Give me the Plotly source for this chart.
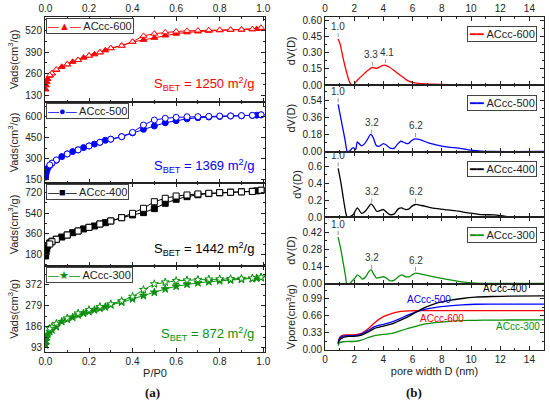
import numpy as np
import plotly.graph_objects as go

# ---- (a) N2 isotherms: relative pressure grids ----
P_ADS = [0.001, 0.003, 0.006, 0.01, 0.02, 0.03, 0.05, 0.075, 0.1, 0.125, 0.15, 0.175, 0.2,
         0.225, 0.25, 0.275, 0.3, 0.35, 0.4, 0.45, 0.5, 0.55, 0.6, 0.65, 0.7, 0.75, 0.8,
         0.85, 0.9, 0.95, 0.97, 0.99]
P_DES = [0.99, 0.95, 0.9, 0.85, 0.8, 0.75, 0.7, 0.65, 0.6, 0.55, 0.5, 0.45, 0.4, 0.35,
         0.3, 0.25, 0.2, 0.15, 0.1, 0.05, 0.03, 0.02]

ADS_600 = [165, 190, 210, 228, 248, 262, 282, 301, 316, 331, 342, 356, 368, 376, 388, 400,
           413, 428, 450, 463, 475, 489, 500, 508, 513, 517, 520, 522, 524, 526, 528, 532]
DES_600 = [535, 527, 525, 524, 523, 521, 519, 517, 513, 508, 500, 487, 452, 428, 413, 388,
           368, 342, 316, 285, 262, 251]

ADS_500 = [170, 195, 215, 232, 252, 269, 290, 316, 335, 352, 364, 380, 392, 405, 418, 432,
           440, 458, 485, 510, 534, 557, 572, 585, 593, 598, 602, 605, 607, 609, 611, 613]
DES_500 = [614, 610, 608, 606, 605, 603, 601, 600, 596, 589, 577, 541, 489, 458, 440, 418,
           392, 364, 335, 292, 270, 257]

ADS_400 = [165, 200, 230, 255, 280, 295, 312, 331, 349, 369, 384, 402, 416, 428, 445, 457,
           472, 501, 525, 545, 580, 627, 662, 685, 702, 712, 719, 724, 728, 732, 736, 740]
DES_400 = [742, 731, 727, 724, 721, 715, 709, 700, 691, 671, 641, 583, 539, 501, 472, 445,
           416, 384, 349, 311, 290, 270]

ADS_300 = [105, 125, 140, 152, 165, 172, 186, 209, 219, 228, 238, 246, 253, 261, 268, 274,
           283, 295, 310, 324, 339, 354, 366, 375, 381, 386, 390, 393, 396, 399, 402, 404]
DES_300 = [406, 402, 400, 399, 398, 397, 395, 393, 390, 384, 376, 350, 320, 301, 287, 275,
           261, 246, 224, 200, 185, 178]

SBET = {"ACcc-600": 1250, "ACcc-500": 1369, "ACcc-400": 1442, "ACcc-300": 872}

# ---- (b) pore size distributions ----
D_600 = [0.9, 1.03, 1.26, 1.48, 1.7, 1.83, 2.0, 2.12, 2.28, 2.6, 2.97, 3.24, 3.54, 3.88,
         4.1, 4.45, 4.9, 5.37, 5.7, 6.16, 6.85, 8.0, 9.0, 10.5, 15]
DV_600 = [0.43, 0.385, 0.24, 0.117, 0.022, 0.0, 0.006, 0.03, 0.054, 0.095, 0.14, 0.164,
          0.155, 0.18, 0.186, 0.164, 0.117, 0.07, 0.038, 0.019, 0.01, 0.005, 0.002, 0.0, 0.0]

D_500 = [0.9, 1.14, 1.37, 1.53, 1.71, 1.87, 1.99, 2.1, 2.21, 2.33, 2.5, 2.7, 2.9, 3.13,
         3.31, 3.5, 3.7, 4.0, 4.22, 4.45, 4.75, 4.98, 5.2, 5.48, 5.7, 5.94, 6.16, 6.5, 7.08,
         7.76, 8.45, 9.13, 9.8, 10.5, 11.4, 15]
DV_500 = [0.497, 0.306, 0.126, 0.0, 0.007, 0.036, 0.036, 0.018, 0.1, 0.083, 0.06, 0.08,
          0.126, 0.18, 0.144, 0.065, 0.054, 0.083, 0.065, 0.036, 0.036, 0.08, 0.108, 0.09,
          0.083, 0.115, 0.133, 0.126, 0.09, 0.065, 0.047, 0.036, 0.018, 0.007, 0.0, 0.0]

D_400 = [0.9, 1.1, 1.26, 1.44, 1.53, 1.71, 1.94, 2.05, 2.21, 2.33, 2.5, 2.74, 2.97, 3.15,
         3.33, 3.54, 3.77, 4.0, 4.22, 4.45, 4.75, 5.02, 5.25, 5.52, 5.75, 5.98, 6.2, 6.62,
         7.3, 8.2, 9.13, 9.8, 10.7, 11.6, 12.3, 13.0, 15]
DV_400 = [0.572, 0.395, 0.217, 0.04, 0.0, 0.008, 0.032, 0.067, 0.11, 0.087, 0.047, 0.067,
          0.118, 0.158, 0.126, 0.071, 0.079, 0.091, 0.059, 0.032, 0.04, 0.099, 0.11, 0.091,
          0.099, 0.134, 0.15, 0.138, 0.11, 0.091, 0.071, 0.051, 0.032, 0.028, 0.012, 0.0, 0.0]

D_300 = [0.9, 1.1, 1.26, 1.42, 1.48, 1.71, 1.87, 2.05, 2.21, 2.4, 2.56, 2.79, 2.97, 3.15,
         3.33, 3.54, 3.77, 4.0, 4.22, 4.45, 4.75, 5.02, 5.25, 5.52, 5.75, 5.98, 6.2, 6.62,
         7.3, 8.0, 8.68, 9.36, 10.3, 11.2, 15]
DV_300 = [0.379, 0.269, 0.159, 0.049, 0.0, 0.0, 0.022, 0.044, 0.071, 0.055, 0.036, 0.055,
          0.091, 0.113, 0.077, 0.044, 0.049, 0.055, 0.044, 0.022, 0.027, 0.055, 0.071, 0.055,
          0.055, 0.071, 0.085, 0.077, 0.058, 0.041, 0.027, 0.014, 0.003, 0.0, 0.0]

PEAK_X = {"ACcc-600": [0.9, 3.3, 4.1], "ACcc-500": [0.9, 3.2, 6.2],
          "ACcc-400": [0.9, 3.2, 6.2], "ACcc-300": [0.9, 3.2, 6.2]}
PEAK_TEXT = {"ACcc-600": ["1.0", "3.3", "4.1"], "ACcc-500": ["1.0", "3.2", "6.2"],
             "ACcc-400": ["1.0", "3.2", "6.2"], "ACcc-300": ["1.0", "3.2", "6.2"]}

# ---- cumulative pore volume ----
D_CUM = [0.9, 1.0, 1.25, 1.6, 2.0, 2.5, 3.0, 3.4, 4.0, 4.6, 5.1, 5.7, 6.3, 6.9, 7.5, 8.5,
         9.4, 10.3, 11.4, 12.6, 15]
VCUM_400 = [0.105, 0.184, 0.236, 0.258, 0.258, 0.282, 0.348, 0.413, 0.459, 0.499, 0.564,
            0.643, 0.741, 0.827, 0.892, 0.958, 0.997, 1.023, 1.036, 1.043, 1.05]
VCUM_500 = [0.118, 0.216, 0.262, 0.27, 0.27, 0.302, 0.38, 0.446, 0.492, 0.538, 0.597,
            0.676, 0.741, 0.787, 0.82, 0.853, 0.872, 0.884, 0.886, 0.886, 0.886]
VCUM_600 = [0.131, 0.236, 0.282, 0.285, 0.285, 0.315, 0.413, 0.525, 0.643, 0.708, 0.741,
            0.754, 0.758, 0.761, 0.761, 0.761, 0.761, 0.761, 0.761, 0.761, 0.761]
VCUM_300 = [0.072, 0.131, 0.151, 0.157, 0.157, 0.184, 0.236, 0.269, 0.295, 0.315, 0.361,
            0.413, 0.459, 0.499, 0.525, 0.551, 0.564, 0.571, 0.574, 0.576, 0.577]
CUM_LABEL_POS = {"ACcc-400": (12.3, 1.19), "ACcc-500": (7.1, 0.97),
                 "ACcc-600": (8.0, 0.61), "ACcc-300": (13.2, 0.44)}

COLORS = {"ACcc-600": "#ff0000", "ACcc-500": "#0000ff", "ACcc-400": "#000000",
          "ACcc-300": "#0a8f0a"}
SYMBOLS = {"ACcc-600": "triangle-up", "ACcc-500": "circle", "ACcc-400": "square",
           "ACcc-300": "star"}
GLYPHS = {"ACcc-600": "▲", "ACcc-500": "●", "ACcc-400": "■", "ACcc-300": "★"}

W, H = 550, 403
FONT = "Arial, Liberation Sans, sans-serif"


def fx(p):
    return p / W


def fy(p):
    return 1 - p / H


fig = go.Figure()

iso = [("ACcc-600", ADS_600, DES_600, (90, 600), 130, (17, 102)),
       ("ACcc-500", ADS_500, DES_500, (128, 705), 150, (102, 183)),
       ("ACcc-400", ADS_400, DES_400, (77, 805), 180, (183, 266)),
       ("ACcc-300", ADS_300, DES_300, (74, 456), 93, (266, 352))]

psd = [("ACcc-600", D_600, DV_600, (0, 0.64), 0.15, ".2f", (16.7, 85)),
       ("ACcc-500", D_500, DV_500, (0, 0.70), 0.18, ".2f", (85, 151.5)),
       ("ACcc-400", D_400, DV_400, (0, 0.77), 0.2, ".1f", (151.5, 217.3)),
       ("ACcc-300", D_300, DV_300, (0, 0.54), 0.14, ".2f", (217.3, 283.5))]

cum = {"ACcc-600": VCUM_600, "ACcc-500": VCUM_500, "ACcc-400": VCUM_400,
       "ACcc-300": VCUM_300}

tick_font = dict(family=FONT, size=10, color="#222")
title_font = dict(family=FONT, size=11, color="#222")


def axis_style(**kw):
    d = dict(showline=True, linecolor="#222", linewidth=1, mirror="allticks",
             ticks="inside", ticklen=4, tickwidth=1, tickcolor="#222",
             showgrid=False, zeroline=False, tickfont=tick_font, automargin=False,
             minor=dict(ticks="inside", ticklen=2, tickcolor="#222"))
    d.update(kw)
    return d


def legend_box(name, with_marker, x, y, xanchor):
    c = COLORS[name]
    sample = f"—{GLYPHS[name]}—" if with_marker else "━━"
    return dict(xref="paper", yref="paper", x=x, y=y, xanchor=xanchor, yanchor="top",
                showarrow=False, bgcolor="white", bordercolor="#444", borderwidth=1,
                borderpad=1, align="left",
                text=f"<span style='color:{c}'>{sample}</span> {name}",
                font=dict(family=FONT, size=11, color="#222"))


layout_axes = {}
annotations = []
n = 0

# ---- left column: isotherms ----
for i, (name, ads, des, yr, dt, (top, bot)) in enumerate(iso):
    n += 1
    xa = "x" if n == 1 else f"x{n}"
    ya = "y" if n == 1 else f"y{n}"
    c = COLORS[name]
    fig.add_trace(go.Scatter(x=P_ADS, y=ads, mode="lines+markers", name=name,
                             xaxis=xa, yaxis=ya, showlegend=False,
                             line=dict(color=c, width=1),
                             marker=dict(symbol=SYMBOLS[name], size=6, color=c,
                                         line=dict(color=c, width=1))))
    fig.add_trace(go.Scatter(x=P_DES, y=des, mode="lines+markers", name=name,
                             xaxis=xa, yaxis=ya, showlegend=False,
                             line=dict(color=c, width=1),
                             marker=dict(symbol=SYMBOLS[name], size=6, color="white",
                                         line=dict(color=c, width=1))))
    xkw = dict(domain=[fx(45), fx(265)], range=[-0.002, 1.008], anchor=ya,
               dtick=0.2, tickformat=".1f", minor=dict(ticks="inside", ticklen=2,
                                                      dtick=0.1, tickcolor="#222"))
    if i == 0:
        xkw.update(side="top", showticklabels=True)
    elif i == len(iso) - 1:
        xkw.update(showticklabels=True,
                   title=dict(text="P/P0", font=title_font, standoff=3))
    else:
        xkw.update(showticklabels=False)
    layout_axes["xaxis" if n == 1 else f"xaxis{n}"] = axis_style(**xkw)
    layout_axes["yaxis" if n == 1 else f"yaxis{n}"] = axis_style(
        domain=[fy(bot), fy(top)], range=list(yr), anchor=xa, tick0=dt, dtick=dt,
        minor=dict(ticks="inside", ticklen=2, dtick=dt / 2, tickcolor="#222"),
        title=dict(text="Vads(cm<sup>3</sup>/g)", font=title_font, standoff=4))
    annotations.append(legend_box(name, True, fx(45.5), fy(top + 0.5), "left"))
    annotations.append(dict(xref=f"{xa} domain", yref=f"{ya} domain", x=0.96, y=0.21,
                            xanchor="right", yanchor="middle", showarrow=False,
                            text=f"S<sub>BET</sub> = {SBET[name]} m<sup>2</sup>/g",
                            font=dict(family=FONT, size=13, color=c)))

# ---- right column: PSD ----
for i, (name, dx, dv, yr, dt, fmt, (top, bot)) in enumerate(psd):
    n += 1
    xa, ya = f"x{n}", f"y{n}"
    c = COLORS[name]
    fig.add_trace(go.Scatter(x=dx, y=dv, mode="lines", name=name, xaxis=xa, yaxis=ya,
                             showlegend=False,
                             line=dict(color=c, width=1.3, shape="spline", smoothing=0.7)))
    xkw = dict(domain=[fx(325), fx(544)], range=[0, 15], anchor=ya, dtick=2,
               minor=dict(ticks="inside", ticklen=2, dtick=1, tickcolor="#222"))
    if i == 0:
        xkw.update(side="top", showticklabels=True)
    else:
        xkw.update(showticklabels=False)
    layout_axes[f"xaxis{n}"] = axis_style(**xkw)
    layout_axes[f"yaxis{n}"] = axis_style(
        domain=[fy(bot), fy(top)], range=list(yr), anchor=xa, tick0=0, dtick=dt,
        tickformat=fmt, minor=dict(ticks="inside", ticklen=2, dtick=dt / 2,
                                   tickcolor="#222"),
        title=dict(text="dV(D)", font=title_font, standoff=4))
    annotations.append(legend_box(name, False, fx(537), fy(top + 9.5), "right"))
    peaks = PEAK_X[name]
    for k, (px_, txt) in enumerate(zip(peaks, PEAK_TEXT[name])):
        # spread labels of close neighbouring peaks a little
        shift = 0
        if k > 0 and k + 1 < len(peaks) and peaks[k + 1] - px_ < 1.2:
            shift = -2
        elif k > 1 and px_ - peaks[k - 1] < 1.2:
            shift = 2
        annotations.append(dict(xref=xa, yref=ya, x=px_, y=float(np.interp(px_, dx, dv)),
                                text=txt, showarrow=True, arrowhead=0, arrowwidth=1,
                                arrowcolor="#999", ax=shift, ay=-13, standoff=2,
                                font=dict(family=FONT, size=10, color="#333")))

# ---- cumulative pore volume ----
n += 1
xa, ya = f"x{n}", f"y{n}"
for name in ["ACcc-600", "ACcc-500", "ACcc-400", "ACcc-300"]:
    c = COLORS[name]
    fig.add_trace(go.Scatter(x=D_CUM, y=cum[name], mode="lines", name=name, xaxis=xa,
                             yaxis=ya, showlegend=False,
                             line=dict(color=c, width=1.3, shape="spline", smoothing=0.7)))
    lx, ly = CUM_LABEL_POS[name]
    annotations.append(dict(xref=xa, yref=ya, x=lx, y=ly, text=name, showarrow=False,
                            font=dict(family=FONT, size=10, color=c)))
layout_axes[f"xaxis{n}"] = axis_style(
    domain=[fx(325), fx(544)], range=[0, 15], anchor=ya, dtick=2,
    minor=dict(ticks="inside", ticklen=2, dtick=1, tickcolor="#222"),
    title=dict(text="pore width D (nm)", font=title_font, standoff=3))
layout_axes[f"yaxis{n}"] = axis_style(
    domain=[fy(350), fy(283.5)], range=[-0.01, 1.29], anchor=xa, tick0=0, dtick=0.33,
    tickformat=".2f", minor=dict(ticks="inside", ticklen=2, dtick=0.165, tickcolor="#222"),
    title=dict(text="Vpore(cm<sup>3</sup>/g)", font=title_font, standoff=4))

# panel letters
for txt, x in [("(a)", 143), ("(b)", 424)]:
    annotations.append(dict(xref="paper", yref="paper", x=fx(x), y=fy(392), yanchor="middle",
                            text=f"<b>{txt}</b>", showarrow=False,
                            font=dict(family="Liberation Serif, serif", size=13,
                                      color="#111")))

fig.update_layout(width=W, height=H, margin=dict(l=0, r=0, t=0, b=0),
                  paper_bgcolor="white", plot_bgcolor="white", showlegend=False,
                  font=dict(family=FONT), annotations=annotations, **layout_axes)

# drop the page's default body margin so the figure fills the window, no modebar
fig.write_html("out.html", config={"displayModeBar": False},
               post_script="document.body.style.margin='0px';")
